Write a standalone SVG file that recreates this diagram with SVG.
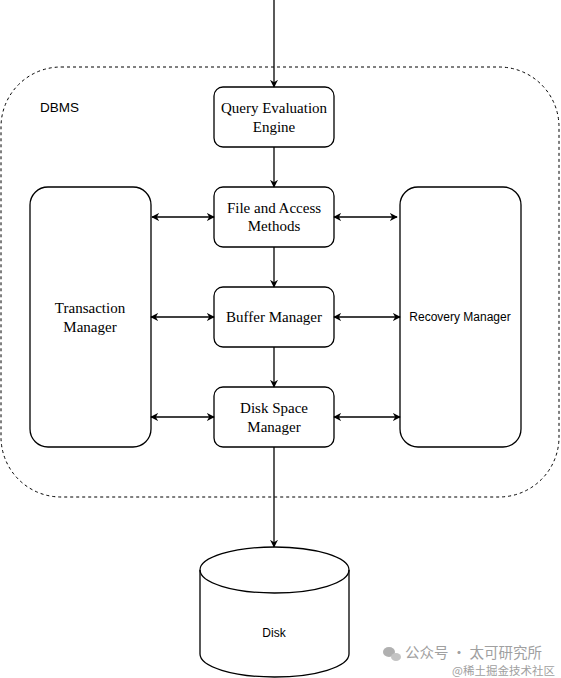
<svg xmlns="http://www.w3.org/2000/svg" width="561" height="678" viewBox="0 0 561 678">
<style>
.box{fill:#fff;stroke:#000;stroke-width:1.3}
.serif{font-family:"Liberation Serif","Times New Roman",serif;font-size:15px;fill:#000;text-anchor:middle}
.sans{font-family:"Liberation Sans",Arial,sans-serif;font-size:12px;fill:#000;text-anchor:middle}
.edge{fill:none;stroke:#000;stroke-width:1.3}
.wm{font-family:"Noto Sans CJK SC","Liberation Sans",sans-serif;fill:#a0a0a0}
</style>
<defs>
<marker id="ah" viewBox="0 0 10 10" refX="9" refY="5" markerWidth="8" markerHeight="8" markerUnits="userSpaceOnUse" orient="auto-start-reverse">
<path d="M0,0 L10,5 L0,10 L3,5 Z" fill="#000"/>
</marker>
</defs>
<rect width="561" height="678" fill="#fff"/>
<g id="dbms">
<rect x="1" y="67" width="558" height="430" rx="60" ry="60" fill="none" stroke="#000" stroke-width="1" stroke-dasharray="3,3"/>
<text x="40" y="112" font-family="'Liberation Sans',Arial,sans-serif" font-size="13.5" fill="#000">DBMS</text>
</g>
<g id="query">
<rect class="box" x="214" y="87" width="120" height="60" rx="9"/>
<text class="serif" x="274" y="113">Query Evaluation</text>
<text class="serif" x="274" y="132">Engine</text>
</g>
<g id="file">
<rect class="box" x="214" y="187" width="120" height="60" rx="9"/>
<text class="serif" x="274" y="213">File and Access</text>
<text class="serif" x="274" y="231">Methods</text>
</g>
<g id="buffer">
<rect class="box" x="214" y="287" width="120" height="60" rx="9"/>
<text class="serif" x="274" y="322">Buffer Manager</text>
</g>
<g id="diskspace">
<rect class="box" x="214" y="387" width="120" height="60" rx="9"/>
<text class="serif" x="274" y="413">Disk Space</text>
<text class="serif" x="274" y="432">Manager</text>
</g>
<g id="transaction">
<rect class="box" x="30" y="187" width="121" height="260" rx="18"/>
<text class="serif" x="90" y="313">Transaction</text>
<text class="serif" x="90" y="332">Manager</text>
</g>
<g id="recovery">
<rect class="box" x="400" y="187" width="121" height="260" rx="18"/>
<text class="sans" x="460" y="321">Recovery Manager</text>
</g>
<g id="disk">
<path class="box" d="M200,570 A74.5,23 0 0 1 349,570 L349,654 A74.5,23 0 0 1 200,654 Z"/>
<path class="edge" d="M200,570 A74.5,23 0 0 0 349,570"/>
<text class="sans" x="274" y="637">Disk</text>
</g>
<g id="connectors">
<line class="edge" x1="274" y1="0" x2="274" y2="87" marker-end="url(#ah)"/>
<line class="edge" x1="274" y1="147" x2="274" y2="187" marker-end="url(#ah)"/>
<line class="edge" x1="274" y1="247" x2="274" y2="287" marker-end="url(#ah)"/>
<line class="edge" x1="274" y1="347" x2="274" y2="387" marker-end="url(#ah)"/>
<line class="edge" x1="274" y1="447" x2="274" y2="547" marker-end="url(#ah)"/>
<line class="edge" x1="152" y1="217" x2="214" y2="217" marker-start="url(#ah)" marker-end="url(#ah)"/>
<line class="edge" x1="151" y1="317" x2="214" y2="317" marker-start="url(#ah)" marker-end="url(#ah)"/>
<line class="edge" x1="151" y1="417" x2="214" y2="417" marker-start="url(#ah)" marker-end="url(#ah)"/>
<line class="edge" x1="334" y1="217" x2="397" y2="217" marker-start="url(#ah)" marker-end="url(#ah)"/>
<line class="edge" x1="334" y1="317" x2="400" y2="317" marker-start="url(#ah)" marker-end="url(#ah)"/>
<line class="edge" x1="334" y1="417" x2="400" y2="417" marker-start="url(#ah)" marker-end="url(#ah)"/>
</g>
<g id="watermark">
<ellipse cx="389" cy="652" rx="6" ry="5" fill="#b0b0b0"/>
<ellipse cx="396" cy="657" rx="5" ry="4" fill="#c4c4c4"/>
<text class="wm" x="405" y="658" font-size="14.5">公众号 · 太可研究所</text>
<text class="wm" x="452" y="675" font-size="11.5" fill="#b5b5b5">@稀土掘金技术社区</text>
</g>
</svg>
